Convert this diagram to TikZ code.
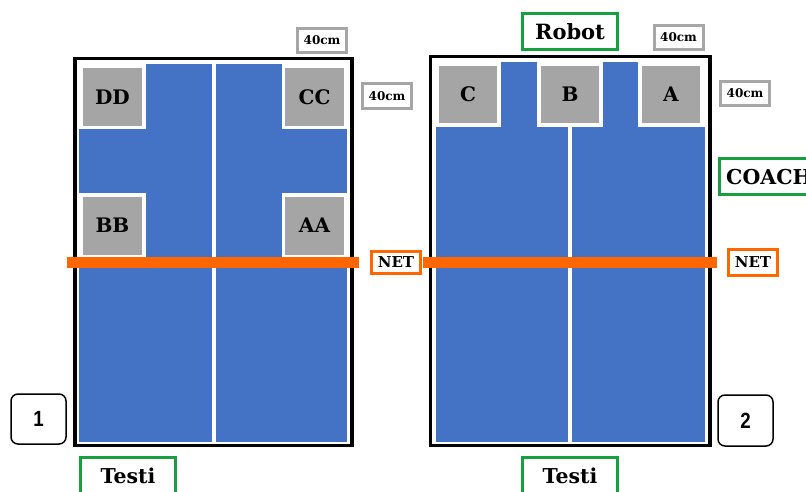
\documentclass[tikz,border=0pt]{standalone}
\usepackage{fontspec}
\newfontfamily\numfont{Liberation Sans}[FakeStretch=0.85]
\newfontfamily\labfont{DejaVu Serif}
\definecolor{courtblue}{HTML}{4472C4}
\definecolor{seatgray}{HTML}{A5A5A5}
\definecolor{labgray}{HTML}{A6A6A6}
\definecolor{netorange}{HTML}{FF6600}
\definecolor{labgreen}{HTML}{17A040}
\begin{document}
\begin{tikzpicture}[x=1pt,y=-1pt,
  court/.style={fill=courtblue},
  frame/.style={draw=black,line width=3.5pt},
  pad/.style={fill=white},
  divider/.style={draw=white,line width=3.5pt},
  seat/.style={fill=seatgray,inner sep=0pt,minimum width=59pt,minimum height=58pt,
    font=\labfont\fontsize{20}{20}\selectfont\bfseries},
  netbar/.style={fill=netorange},
  tagbox/.style={draw=labgray,line width=3pt,fill=white,inner sep=0pt,
    minimum width=49pt,minimum height=24pt,font=\labfont\fontsize{12}{12}\selectfont\bfseries},
  netlab/.style={draw=netorange,line width=3pt,fill=white,inner sep=0pt,
    minimum width=49pt,font=\labfont\fontsize{15}{15}\selectfont\bfseries},
  greenline/.style={draw=labgreen,line width=3pt},
  greentext/.style={inner sep=0pt,font=\labfont\fontsize{20.5}{20.5}\selectfont\bfseries},
  numbox/.style={draw=black,line width=1.5pt,rounded corners=7pt,fill=white,inner sep=0pt,
    minimum width=55pt,minimum height=50pt,font=\numfont\fontsize{22}{22}\selectfont\bfseries}]
\useasboundingbox (0,0) rectangle (806,492);
\clip (0,0) rectangle (806,492);
\fill[white] (0,0) rectangle (806,492);

% ---------- table 1 ----------
\fill[court] (79,64) rectangle (347,442);
\draw[divider] (214,64) -- (214,442);
\fill[pad] (79,64) rectangle (145.5,129.5);
\fill[pad] (282,64) rectangle (347,129.5);
\fill[pad] (79,193) rectangle (145.5,258);
\fill[pad] (282,193) rectangle (347,258);
\node[seat] (DD) at (112.5,97) {DD};
\node[seat] (CC) at (314.5,97) {CC};
\node[seat] (BB) at (112.5,225.5) {BB};
\node[seat] (AA) at (314.5,225.5) {AA};
\draw[frame] (75,58.5) rectangle (352,445.5);
\fill[netbar] (67,257) rectangle (359,268);

% ---------- table 2 ----------
\fill[court] (436,62) rectangle (705,442);
\draw[divider] (570,62) -- (570,442);
\fill[pad] (436,62) rectangle (501,127);
\fill[pad] (537,62) rectangle (603,127);
\fill[pad] (638,62) rectangle (705,127);
\node[seat, minimum width=58pt, minimum height=57pt] (C) at (468,94.5) {C};
\node[seat, minimum width=58pt, minimum height=57pt] (B) at (570,94.5) {B};
\node[seat, minimum width=58pt, minimum height=57pt] (A) at (671,94.5) {A};
\draw[frame] (430.5,56.5) rectangle (710,445.5);
\fill[netbar] (423,257) rectangle (717,268);

% ---------- labels ----------
\node[tagbox] (t1top) at (322,40.5) {40cm};
\node[tagbox, minimum height=25pt] (t1side) at (387,96) {40cm};
\node[tagbox] (t2top) at (678.5,37.5) {40cm};
\node[tagbox] (t2side) at (745,93.5) {40cm};

\node[netlab, minimum height=22pt] (net1) at (396,262.5) {NET};
\node[netlab, minimum height=26pt] (net2) at (753,262.5) {NET};

\node[greenline, fill=white, inner sep=0pt, minimum width=95pt, minimum height=36pt,
  font=\labfont\fontsize{21}{21}\selectfont\bfseries] (robot) at (570,31.5) {Robot};

\draw[greenline, fill=white] (830,158.5) -- (719.5,158.5) -- (719.5,194.5) -- (830,194.5);
\node[greentext, anchor=west] (coach) at (726,177) {COACH};

\draw[greenline, fill=white] (80.5,510) -- (80.5,457.5) -- (175.5,457.5) -- (175.5,510);
\node[greentext] (testi1) at (128,476) {Testi};
\draw[greenline, fill=white] (522.5,510) -- (522.5,457.5) -- (617.5,457.5) -- (617.5,510);
\node[greentext] (testi2) at (570,476) {Testi};

\node[numbox] (n1) at (38.5,419) {1};
\node[numbox, minimum height=51pt] (n2) at (745.5,420.5) {2};
\end{tikzpicture}
\end{document}
